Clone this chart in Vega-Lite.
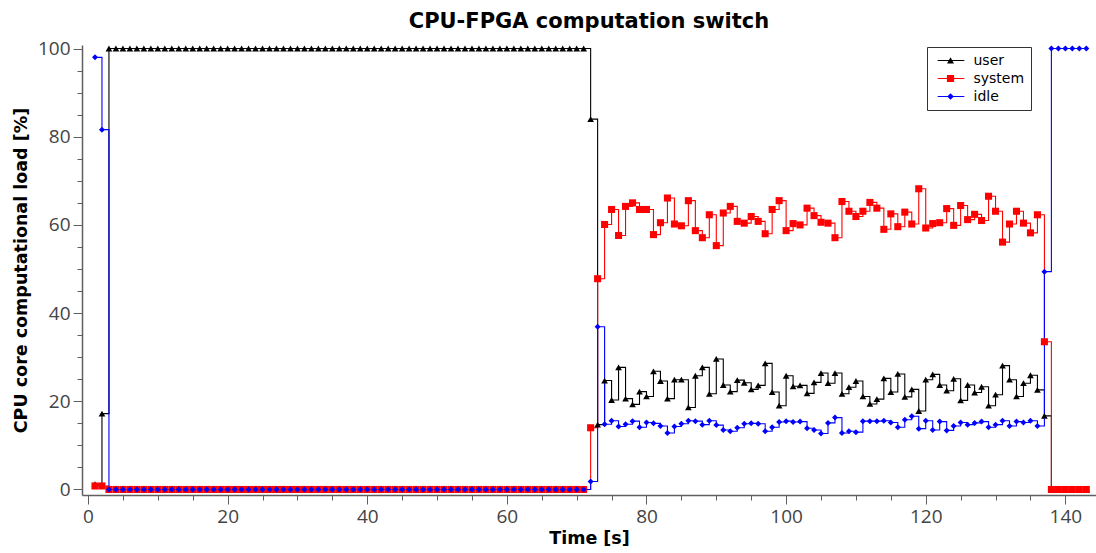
{
  "$schema": "https://vega.github.io/schema/vega-lite/v6.json",
  "autosize": {"type": "none"},
  "padding": {"left": 82, "top": 45, "right": 0, "bottom": 58},
  "width": 1014,
  "height": 450,
  "background": "white",
  "title": {"text": "CPU-FPGA computation switch", "font": "DejaVu Sans", "fontSize": 21, "fontWeight": "bold", "color": "#000000", "anchor": "middle", "offset": 8},
  "config": {
    "view": {"stroke": null},
    "font": "Open Sans",
    "axis": {"domainColor": "#606060", "domainWidth": 1.5, "tickColor": "#606060", "tickWidth": 1, "labelColor": "#444444", "labelFontSize": 19, "labelFont": "Open Sans", "titleFont": "DejaVu Sans", "titleFontSize": 17.5, "titleFontWeight": "bold", "titleColor": "#000000", "grid": false},
    "legend": {"orient": "none", "legendX": 845, "legendY": 2, "strokeColor": "#333333", "fillColor": "#ffffff", "padding": 6.5, "cornerRadius": 0,
      "labelFontSize": 14, "labelFont": "DejaVu Sans", "labelColor": "#000000", "labelOffset": 26, "rowPadding": 4, "symbolSize": 144, "symbolStrokeWidth": 0, "symbolOpacity": 1}
  },
  "data": {"values": [
    {"t":1,"user":1.2,"system":0.8,"idle":98.0},
    {"t":2,"user":17.2,"system":0.8,"idle":81.6},
    {"t":3,"user":100,"system":0,"idle":0},{"t":4,"user":100,"system":0,"idle":0},{"t":5,"user":100,"system":0,"idle":0},{"t":6,"user":100,"system":0,"idle":0},{"t":7,"user":100,"system":0,"idle":0},{"t":8,"user":100,"system":0,"idle":0},{"t":9,"user":100,"system":0,"idle":0},{"t":10,"user":100,"system":0,"idle":0},
    {"t":11,"user":100,"system":0,"idle":0},{"t":12,"user":100,"system":0,"idle":0},{"t":13,"user":100,"system":0,"idle":0},{"t":14,"user":100,"system":0,"idle":0},{"t":15,"user":100,"system":0,"idle":0},{"t":16,"user":100,"system":0,"idle":0},{"t":17,"user":100,"system":0,"idle":0},{"t":18,"user":100,"system":0,"idle":0},{"t":19,"user":100,"system":0,"idle":0},{"t":20,"user":100,"system":0,"idle":0},
    {"t":21,"user":100,"system":0,"idle":0},{"t":22,"user":100,"system":0,"idle":0},{"t":23,"user":100,"system":0,"idle":0},{"t":24,"user":100,"system":0,"idle":0},{"t":25,"user":100,"system":0,"idle":0},{"t":26,"user":100,"system":0,"idle":0},{"t":27,"user":100,"system":0,"idle":0},{"t":28,"user":100,"system":0,"idle":0},{"t":29,"user":100,"system":0,"idle":0},{"t":30,"user":100,"system":0,"idle":0},
    {"t":31,"user":100,"system":0,"idle":0},{"t":32,"user":100,"system":0,"idle":0},{"t":33,"user":100,"system":0,"idle":0},{"t":34,"user":100,"system":0,"idle":0},{"t":35,"user":100,"system":0,"idle":0},{"t":36,"user":100,"system":0,"idle":0},{"t":37,"user":100,"system":0,"idle":0},{"t":38,"user":100,"system":0,"idle":0},{"t":39,"user":100,"system":0,"idle":0},{"t":40,"user":100,"system":0,"idle":0},
    {"t":41,"user":100,"system":0,"idle":0},{"t":42,"user":100,"system":0,"idle":0},{"t":43,"user":100,"system":0,"idle":0},{"t":44,"user":100,"system":0,"idle":0},{"t":45,"user":100,"system":0,"idle":0},{"t":46,"user":100,"system":0,"idle":0},{"t":47,"user":100,"system":0,"idle":0},{"t":48,"user":100,"system":0,"idle":0},{"t":49,"user":100,"system":0,"idle":0},{"t":50,"user":100,"system":0,"idle":0},
    {"t":51,"user":100,"system":0,"idle":0},{"t":52,"user":100,"system":0,"idle":0},{"t":53,"user":100,"system":0,"idle":0},{"t":54,"user":100,"system":0,"idle":0},{"t":55,"user":100,"system":0,"idle":0},{"t":56,"user":100,"system":0,"idle":0},{"t":57,"user":100,"system":0,"idle":0},{"t":58,"user":100,"system":0,"idle":0},{"t":59,"user":100,"system":0,"idle":0},{"t":60,"user":100,"system":0,"idle":0},
    {"t":61,"user":100,"system":0,"idle":0},{"t":62,"user":100,"system":0,"idle":0},{"t":63,"user":100,"system":0,"idle":0},{"t":64,"user":100,"system":0,"idle":0},{"t":65,"user":100,"system":0,"idle":0},{"t":66,"user":100,"system":0,"idle":0},{"t":67,"user":100,"system":0,"idle":0},{"t":68,"user":100,"system":0,"idle":0},{"t":69,"user":100,"system":0,"idle":0},{"t":70,"user":100,"system":0,"idle":0},
    {"t":71,"user":100,"system":0,"idle":0},
    {"t":72,"user":84.0,"system":14.0,"idle":1.8},
    {"t":73,"user":14.7,"system":47.8,"idle":36.9},
    {"t":74,"user":24.7,"system":60.1,"idle":14.8},
    {"t":75,"user":20.3,"system":63.5,"idle":15.6},
    {"t":76,"user":27.7,"system":57.6,"idle":14.3},
    {"t":77,"user":20.6,"system":64.2,"idle":14.8},
    {"t":78,"user":19.3,"system":65.0,"idle":15.5},
    {"t":79,"user":22.2,"system":63.5,"idle":14.1},
    {"t":80,"user":21.1,"system":63.5,"idle":15.2},
    {"t":81,"user":26.8,"system":57.8,"idle":15.0},
    {"t":82,"user":24.6,"system":60.5,"idle":14.4},
    {"t":83,"user":20.6,"system":66.1,"idle":12.8},
    {"t":84,"user":24.9,"system":60.2,"idle":14.3},
    {"t":85,"user":24.9,"system":59.8,"idle":14.9},
    {"t":86,"user":18.6,"system":65.5,"idle":15.6},
    {"t":87,"user":25.8,"system":58.7,"idle":15.5},
    {"t":88,"user":27.7,"system":57.1,"idle":14.7},
    {"t":89,"user":21.7,"system":62.3,"idle":15.6},
    {"t":90,"user":29.6,"system":55.3,"idle":14.6},
    {"t":91,"user":23.7,"system":62.7,"idle":13.5},
    {"t":92,"user":22.2,"system":64.2,"idle":13.2},
    {"t":93,"user":24.8,"system":60.8,"idle":14.0},
    {"t":94,"user":24.2,"system":60.4,"idle":14.9},
    {"t":95,"user":22.7,"system":61.9,"idle":15.0},
    {"t":96,"user":23.6,"system":60.8,"idle":14.9},
    {"t":97,"user":28.6,"system":58.0,"idle":13.2},
    {"t":98,"user":22.1,"system":63.5,"idle":14.1},
    {"t":99,"user":19.0,"system":65.5,"idle":15.3},
    {"t":100,"user":25.8,"system":58.7,"idle":15.5},
    {"t":101,"user":23.4,"system":60.3,"idle":15.3},
    {"t":102,"user":23.6,"system":60.0,"idle":15.4},
    {"t":103,"user":21.8,"system":63.8,"idle":13.9},
    {"t":104,"user":24.3,"system":62.1,"idle":13.5},
    {"t":105,"user":26.4,"system":60.6,"idle":12.7},
    {"t":106,"user":24.1,"system":60.4,"idle":15.1},
    {"t":107,"user":26.4,"system":57.1,"idle":16.3},
    {"t":108,"user":21.7,"system":65.3,"idle":12.8},
    {"t":109,"user":23.2,"system":63.1,"idle":13.2},
    {"t":110,"user":24.6,"system":61.9,"idle":13.0},
    {"t":111,"user":21.1,"system":63.1,"idle":15.5},
    {"t":112,"user":19.4,"system":65.1,"idle":15.5},
    {"t":113,"user":20.5,"system":63.8,"idle":15.5},
    {"t":114,"user":25.2,"system":59.0,"idle":15.6},
    {"t":115,"user":22.1,"system":62.5,"idle":15.2},
    {"t":116,"user":26.2,"system":59.6,"idle":14.1},
    {"t":117,"user":21.0,"system":62.9,"idle":15.8},
    {"t":118,"user":22.7,"system":60.2,"idle":16.6},
    {"t":119,"user":17.8,"system":68.2,"idle":13.8},
    {"t":120,"user":24.9,"system":59.3,"idle":15.6},
    {"t":121,"user":26.1,"system":60.3,"idle":13.5},
    {"t":122,"user":23.7,"system":60.5,"idle":15.4},
    {"t":123,"user":22.4,"system":63.7,"idle":13.4},
    {"t":124,"user":25.1,"system":59.9,"idle":14.4},
    {"t":125,"user":20.2,"system":64.4,"idle":15.2},
    {"t":126,"user":23.7,"system":61.2,"idle":14.7},
    {"t":127,"user":22.0,"system":62.4,"idle":15.1},
    {"t":128,"user":23.3,"system":61.0,"idle":15.4},
    {"t":129,"user":19.0,"system":66.5,"idle":14.1},
    {"t":130,"user":21.5,"system":63.1,"idle":14.7},
    {"t":131,"user":28.1,"system":56.1,"idle":15.6},
    {"t":132,"user":24.9,"system":60.2,"idle":14.4},
    {"t":133,"user":21.1,"system":63.1,"idle":15.4},
    {"t":134,"user":24.1,"system":60.4,"idle":15.2},
    {"t":135,"user":25.9,"system":58.2,"idle":15.6},
    {"t":136,"user":22.6,"system":62.3,"idle":14.4},
    {"t":137,"user":16.7,"system":33.5,"idle":49.4},
    {"t":138,"user":0,"system":0,"idle":100},
    {"t":139,"user":0,"system":0,"idle":100},
    {"t":140,"user":0,"system":0,"idle":100},
    {"t":141,"user":0,"system":0,"idle":100},
    {"t":142,"user":0,"system":0,"idle":100},
    {"t":143,"user":0,"system":0,"idle":100}
  ]},
  "transform": [{"fold": ["user", "system", "idle"], "as": ["series", "load"]}],
  "encoding": {
    "x": {"field": "t", "type": "quantitative", "scale": {"domain": [-0.86, 144.39], "nice": false, "zero": false},
      "axis": {"title": "Time [s]", "values": [0,5,10,15,20,25,30,35,40,45,50,55,60,65,70,75,80,85,90,95,100,105,110,115,120,125,130,135,140],
        "labelExpr": "datum.value % 20 === 0 ? datum.label : ''",
        "tickSize": {"condition": {"test": "datum.value % 20 === 0", "value": 9}, "value": 5},
        "labelPadding": 3, "titlePadding": 3, "labelFlush": false}},
    "y": {"field": "load", "type": "quantitative", "scale": {"domain": [-1.25, 100.8], "nice": false, "zero": false},
      "axis": {"title": "CPU core computational load [%]", "values": [0,5,10,15,20,25,30,35,40,45,50,55,60,65,70,75,80,85,90,95,100],
        "labelExpr": "datum.value % 20 === 0 ? datum.label : ''",
        "tickSize": {"condition": {"test": "datum.value % 20 === 0", "value": 9}, "value": 5},
        "labelPadding": 3, "titlePadding": 7}}
  },
  "layer": [
    {"mark": {"type": "line", "interpolate": "step-after", "strokeWidth": 1.1},
      "encoding": {
        "detail": {"field": "series", "type": "nominal"},
        "color": {"condition": [{"test": "datum.series === 'user'", "value": "#000000"}, {"test": "datum.series === 'system'", "value": "#ff0000"}], "value": "#0000ff"}
      }},
    {"mark": {"type": "point", "filled": true, "opacity": 1},
      "encoding": {
        "shape": {"condition": [{"test": "datum.series === 'user'", "value": "triangle-up"}, {"test": "datum.series === 'system'", "value": "square"}], "value": "diamond"},
        "size": {"condition": [{"test": "datum.series === 'user'", "value": 45}, {"test": "datum.series === 'system'", "value": 50}], "value": 36},
        "color": {"field": "series", "type": "nominal", "scale": {"domain": ["user", "system", "idle"], "range": ["#000000", "#ff0000", "#0000ff"]}, "legend": {"title": null}}
      }},
    {"transform": [{"filter": "false"}],
      "mark": {"type": "point", "filled": true, "opacity": 1},
      "encoding": {
        "color": {"field": "series", "type": "nominal", "scale": {"domain": ["user", "system", "idle"], "range": ["#000000", "#ff0000", "#0000ff"]}, "legend": {"title": null}},
        "shape": {"field": "series", "type": "nominal", "legend": {"title": null},
          "scale": {"domain": ["user", "system", "idle"], "range": [
            "M-0.47,-0.09H3.97V0.09H-0.47Z M1.09,0.5L1.67,-0.55L2.25,0.5Z",
            "M-0.47,-0.09H3.97V0.09H-0.47Z M1.07,-0.6H2.27V0.6H1.07Z",
            "M-0.47,-0.09H3.97V0.09H-0.47Z M1.12,0L1.67,-0.55L2.22,0L1.67,0.55Z"]}}
      }}
  ]
}
